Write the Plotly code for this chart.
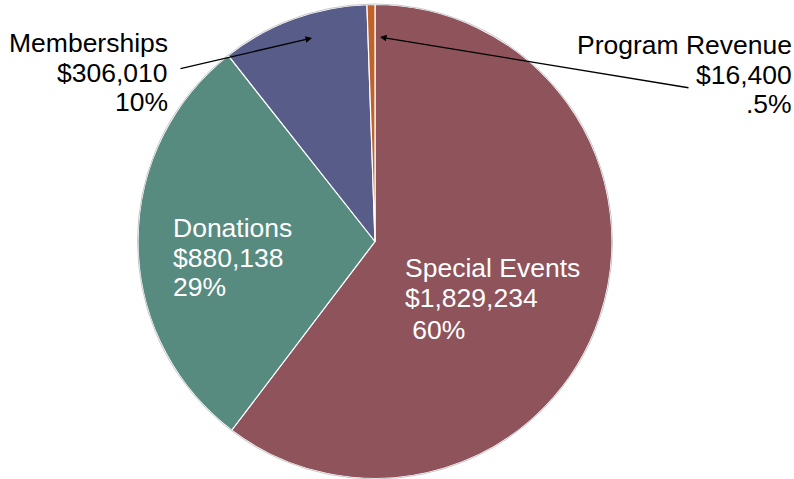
import plotly.graph_objects as go

labels = ["Special Events", "Donations", "Memberships", "Program Revenue"]
values = [1829234, 880138, 306010, 16400]
money = ["$1,829,234", "$880,138", "$306,010", "$16,400"]
pcts = [" 60%", "29%", "10%", ".5%"]
colors = ["#8E535B", "#588B7F", "#575C89", "#C0622A"]

W, H = 794, 479
cx, cy, r = 375, 241.5, 237

fig = go.Figure(go.Pie(
    labels=labels, values=values, sort=False, direction="clockwise", rotation=0,
    marker=dict(colors=colors, line=dict(color="white", width=1.2)),
    textinfo="none", hoverinfo="label+value+percent", showlegend=False,
    domain=dict(x=[(cx - r) / W, (cx + r) / W], y=[1 - (cy + r) / H, 1 - (cy - r) / H]),
))

def px(x):
    return x / W

def py(y):
    return 1 - y / H

font = dict(family="Liberation Sans, Arial, sans-serif", size=26.5)

def label(i, x, ys, xanchor, color):
    for txt, y in zip([labels[i], money[i], pcts[i]], ys):
        fig.add_annotation(
            x=px(x), y=py(y), xref="paper", yref="paper", xanchor=xanchor, yanchor="middle",
            text=txt.replace(" ", "&nbsp;") if txt.startswith(" ") else txt,
            showarrow=False, font=dict(font, color=color),
        )

label(0, 403, [268, 298, 330], "left", "white")
label(1, 171, [228, 258, 287], "left", "white")
label(2, 170, [43.5, 73, 102], "right", "black")
label(3, 794, [45, 75, 104], "right", "black")

def arrow(tip, tail):
    fig.add_annotation(
        x=px(tip[0]), y=py(tip[1]), xref="paper", yref="paper",
        ax=tail[0] - tip[0], ay=tail[1] - tip[1], axref="pixel", ayref="pixel",
        text="", showarrow=True, arrowhead=2, arrowsize=1, arrowwidth=1.3,
        arrowcolor="black", standoff=0, startstandoff=0,
    )

arrow((312, 38), (179, 69))
arrow((380, 37), (690, 88))

fig.add_shape(type="circle", xref="paper", yref="paper",
              x0=px(cx - r - 0.5), x1=px(cx + r + 0.5), y0=py(cy + r + 0.5), y1=py(cy - r - 0.5),
              line=dict(color="#C8C8C8", width=1), layer="above")

fig.update_layout(width=W, height=H, margin=dict(l=0, r=0, t=0, b=0),
                  paper_bgcolor="white", plot_bgcolor="white")
fig.write_html("out.html")
